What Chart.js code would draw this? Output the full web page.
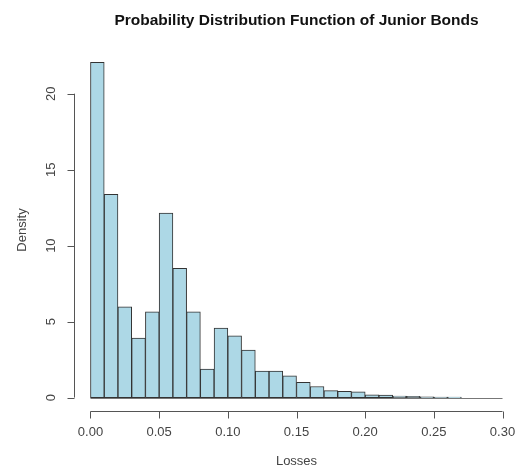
<!DOCTYPE html>
<html>
<head>
<meta charset="utf-8">
<script src="https://cdn.jsdelivr.net/npm/chart.js@4/dist/chart.umd.min.js"></script>
<style>
  html, body { margin: 0; padding: 0; background: #fff; }
  #wrap { width: 519px; height: 468px; }
</style>
</head>
<body>
<div id="wrap"><canvas id="myChart" width="519" height="468"></canvas></div>
<script>
// histogram bins (left edges), width 0.01
var binStart = [0.00,0.01,0.02,0.03,0.04,0.05,0.06,0.07,0.08,0.09,
                0.10,0.11,0.12,0.13,0.14,0.15,0.16,0.17,0.18,0.19,
                0.20,0.21,0.22,0.23,0.24,0.25,0.26,0.27,0.28,0.29];
var density = [22.06,13.37,5.98,3.92,5.65,12.14,8.51,5.65,1.87,4.58,
               4.07,3.13,1.74,1.74,1.43,1.00,0.73,0.46,0.42,0.38,
               0.18,0.16,0.10,0.08,0.05,0.04,0.03,0,0,0];
var xTicks = [0.00,0.05,0.10,0.15,0.20,0.25,0.30];
var yTicks = [0,5,10,15,20];
var binWidth = 0.01;

var titleText = 'Probability Distribution Function of Junior Bonds';
var xTitle = 'Losses';
var yTitle = 'Density';

var points = [];
for (var i = 0; i < binStart.length; i++) {
    points.push({x: binStart[i] + binWidth/2, y: density[i]});
}

// R style axes, labels and title
var rAxes = {
    id: 'rAxes',
    afterDraw: function(chart) {
        var ctx = chart.ctx;
        var xs = chart.scales.x, ys = chart.scales.y;
        var area = chart.chartArea;
        ctx.save();

        // zero line under empty bins
        ctx.strokeStyle = '#777';
        ctx.lineWidth = 1;
        ctx.beginPath();
        ctx.moveTo(xs.getPixelForValue(binStart[0]), Math.round(ys.getPixelForValue(0)) + 0.5);
        ctx.lineTo(xs.getPixelForValue(binStart[binStart.length-1] + binWidth), Math.round(ys.getPixelForValue(0)) + 0.5);
        ctx.stroke();

        ctx.strokeStyle = '#555';
        ctx.fillStyle = '#444';
        ctx.font = '13px "Liberation Sans", Arial, sans-serif';

        // x axis
        var yb = area.bottom + 0.5;
        ctx.beginPath();
        ctx.moveTo(xs.getPixelForValue(xTicks[0]), yb);
        ctx.lineTo(xs.getPixelForValue(xTicks[xTicks.length-1]), yb);
        for (var i = 0; i < xTicks.length; i++) {
            var px = Math.round(xs.getPixelForValue(xTicks[i])) + 0.5;
            ctx.moveTo(px, yb);
            ctx.lineTo(px, yb + 7);
        }
        ctx.stroke();
        ctx.textAlign = 'center';
        ctx.textBaseline = 'middle';
        for (var i = 0; i < xTicks.length; i++) {
            ctx.fillText(xTicks[i].toFixed(2), xs.getPixelForValue(xTicks[i]), yb + 21);
        }
        ctx.fillText(xTitle, (area.left + area.right) / 2, yb + 50);

        // y axis
        var xl = area.left + 0.5;
        ctx.beginPath();
        ctx.moveTo(xl, ys.getPixelForValue(yTicks[0]));
        ctx.lineTo(xl, ys.getPixelForValue(yTicks[yTicks.length-1]));
        for (var j = 0; j < yTicks.length; j++) {
            var py = Math.round(ys.getPixelForValue(yTicks[j])) + 0.5;
            ctx.moveTo(xl, py);
            ctx.lineTo(xl - 7, py);
        }
        ctx.stroke();
        for (var j = 0; j < yTicks.length; j++) {
            ctx.save();
            ctx.translate(xl - 23, ys.getPixelForValue(yTicks[j]));
            ctx.rotate(-Math.PI / 2);
            ctx.fillText(String(yTicks[j]), 0, 0);
            ctx.restore();
        }
        ctx.save();
        ctx.translate(xl - 52, (area.top + area.bottom) / 2);
        ctx.rotate(-Math.PI / 2);
        ctx.fillText(yTitle, 0, 0);
        ctx.restore();

        // title
        ctx.fillStyle = '#111';
        ctx.font = 'bold 15.5px "Liberation Sans", Arial, sans-serif';
        ctx.fillText(titleText, (area.left + area.right) / 2, 21);

        ctx.restore();
    }
};

const ctx = document.getElementById('myChart').getContext('2d');
const myChart = new Chart(ctx, {
    type: 'bar',
    data: {
        datasets: [{
            data: points,
            backgroundColor: '#add8e6',
            borderColor: '#333',
            borderWidth: 1,
            borderSkipped: false,
            barPercentage: 1,
            categoryPercentage: 1
        }]
    },
    options: {
        responsive: false,
        animation: false,
        layout: { padding: { left: 74, right: 0, top: 49, bottom: 57 } },
        plugins: { legend: { display: false }, tooltip: { enabled: false } },
        scales: {
            x: { type: 'linear', display: false, offset: false, min: -0.012, max: 0.312 },
            y: { display: false, min: -0.8824, max: 22.94 }
        }
    },
    plugins: [rAxes]
});
</script>
</body>
</html>
